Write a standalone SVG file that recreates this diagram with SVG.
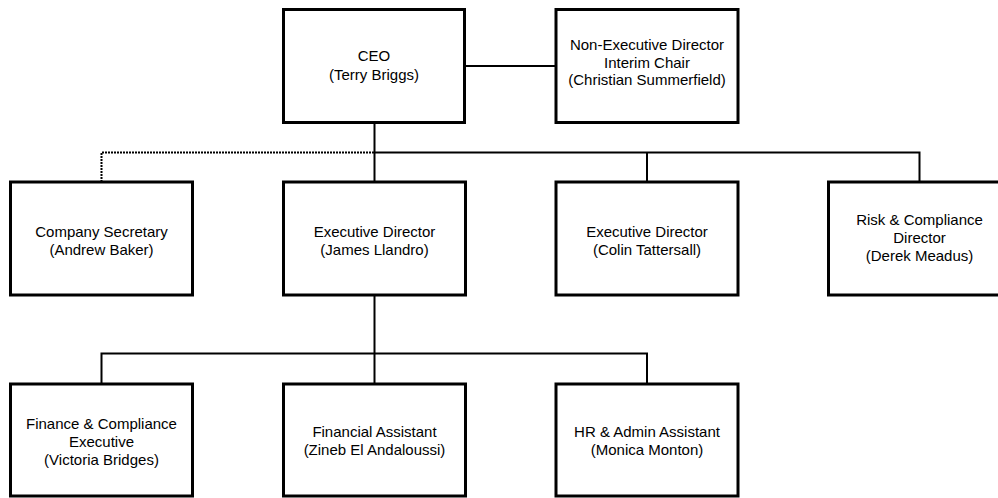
<svg xmlns="http://www.w3.org/2000/svg" width="998" height="498" viewBox="0 0 998 498">
<style>
.box{fill:#fff;stroke:#000;stroke-width:3}
.ln{fill:none;stroke:#000;stroke-width:2}
.dot{fill:none;stroke:#000;stroke-width:2;stroke-dasharray:2 1}
text{font-family:"Liberation Sans",Arial,sans-serif;font-size:15px;fill:#000;text-anchor:middle}
</style>
<rect width="998" height="498" fill="#fff"/>
<g id="connectors">
<path class="ln" d="M464,66 H556"/>
<path class="ln" d="M374.5,122 V182"/>
<path class="ln" d="M374.5,152.5 H919.5 V182"/>
<path class="ln" d="M647,152.5 V182"/>
<path class="dot" d="M101.5,182 V152.5 H374.5"/>
<path class="ln" d="M374.5,295 V384"/>
<path class="ln" d="M101.5,384 V353.5 H647 V384"/>
</g>
<g id="ceo">
<rect class="box" x="283.5" y="9.5" width="181" height="113"/>
<text x="374" y="61">CEO</text>
<text x="374" y="80">(Terry Briggs)</text>
</g>
<g id="ned">
<rect class="box" x="556" y="9.5" width="182" height="113"/>
<text x="647" y="50">Non-Executive Director</text>
<text x="647" y="67.5">Interim Chair</text>
<text x="647" y="85">(Christian Summerfield)</text>
</g>
<g id="company-secretary">
<rect class="box" x="10.5" y="182" width="182" height="113"/>
<text x="101.5" y="237">Company Secretary</text>
<text x="101.5" y="255">(Andrew Baker)</text>
</g>
<g id="exec-james">
<rect class="box" x="283.5" y="182" width="182" height="113"/>
<text x="374.5" y="237">Executive Director</text>
<text x="374.5" y="255">(James Llandro)</text>
</g>
<g id="exec-colin">
<rect class="box" x="556" y="182" width="182" height="113"/>
<text x="647" y="237">Executive Director</text>
<text x="647" y="255">(Colin Tattersall)</text>
</g>
<g id="risk">
<rect class="box" x="828.5" y="182" width="182" height="113"/>
<text x="919.5" y="225">Risk &amp; Compliance</text>
<text x="919.5" y="243">Director</text>
<text x="919.5" y="261">(Derek Meadus)</text>
</g>
<g id="finance">
<rect class="box" x="10.5" y="384" width="182" height="112"/>
<text x="101.5" y="429">Finance &amp; Compliance</text>
<text x="101.5" y="447">Executive</text>
<text x="101.5" y="465">(Victoria Bridges)</text>
</g>
<g id="fin-assistant">
<rect class="box" x="283.5" y="384" width="182" height="112"/>
<text x="374.5" y="437">Financial Assistant</text>
<text x="374.5" y="455">(Zineb El Andaloussi)</text>
</g>
<g id="hr">
<rect class="box" x="556" y="384" width="182" height="112"/>
<text x="647" y="437">HR &amp; Admin Assistant</text>
<text x="647" y="455">(Monica Monton)</text>
</g>
</svg>
